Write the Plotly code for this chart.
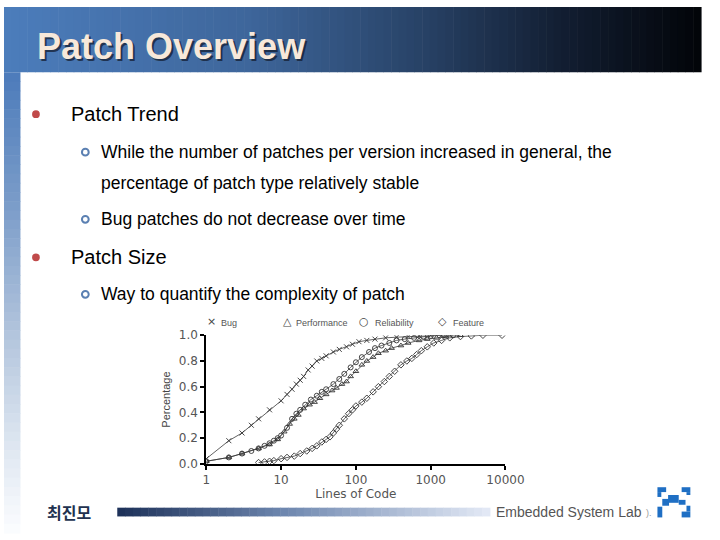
import plotly.graph_objects as go

W, H = 720, 540

# ---------------- data ----------------
bug_loc = [1, 2, 3, 4, 5, 7, 10, 12, 14, 16, 18, 20, 23, 26, 30, 35, 40, 50, 60, 75, 90,
           110, 140, 180, 250, 350, 500, 700, 1000, 1400]
bug_cdf = [0.04, 0.18, 0.24, 0.30, 0.35, 0.42, 0.49, 0.54, 0.58, 0.62, 0.65, 0.68, 0.73, 0.76,
           0.80, 0.82, 0.84, 0.87, 0.89, 0.91, 0.93, 0.95, 0.96, 0.97, 0.98, 0.985, 0.99, 0.995,
           1.0, 1.0]

perf_loc = [1, 2, 3, 5, 7, 9, 11, 13, 15, 17, 20, 24, 28, 33, 40, 48, 55, 65, 75, 85, 100, 120,
            140, 170, 200, 250, 300, 400, 500, 700, 900, 1200, 1600, 2500]
perf_cdf = [0.02, 0.05, 0.08, 0.12, 0.15, 0.19, 0.25, 0.31, 0.35, 0.38, 0.43, 0.46, 0.48, 0.51,
            0.54, 0.57, 0.59, 0.62, 0.64, 0.68, 0.72, 0.77, 0.80, 0.83, 0.86, 0.88, 0.90, 0.92,
            0.94, 0.96, 0.97, 0.98, 0.99, 1.0]

rel_loc = [1, 2, 3, 4, 5, 6, 7, 8, 9, 10, 12, 14, 16, 18, 21, 25, 30, 35, 40, 50, 60, 70, 85,
           100, 120, 150, 180, 220, 280, 350, 450, 600, 800, 1000, 1500, 2000]
rel_cdf = [0.02, 0.05, 0.08, 0.10, 0.12, 0.14, 0.16, 0.18, 0.20, 0.22, 0.28, 0.35, 0.39, 0.42,
           0.46, 0.50, 0.53, 0.56, 0.58, 0.62, 0.66, 0.70, 0.75, 0.79, 0.83, 0.87, 0.90, 0.92,
           0.94, 0.96, 0.97, 0.98, 0.99, 0.995, 1.0, 1.0]

feat_loc = [5, 6, 7, 8, 10, 12, 15, 18, 22, 26, 30, 35, 40, 45, 50, 55, 60, 70, 80, 90, 100,
            120, 140, 170, 200, 240, 280, 330, 400, 480, 560, 650, 750, 900, 1100, 1400, 1800,
            2500, 3500, 5000, 9000]
feat_cdf = [0.01, 0.015, 0.02, 0.025, 0.04, 0.05, 0.06, 0.08, 0.10, 0.12, 0.14, 0.17, 0.19,
            0.21, 0.24, 0.27, 0.30, 0.35, 0.39, 0.42, 0.45, 0.48, 0.51, 0.56, 0.60, 0.64, 0.68,
            0.72, 0.77, 0.80, 0.82, 0.85, 0.88, 0.91, 0.94, 0.96, 0.98, 0.99, 0.995, 1.0, 1.0]

series_names = ["Bug", "Performance", "Reliability", "Feature"]
x_tick_vals = [1, 10, 100, 1000, 10000]
x_tick_text = ["1", "10", "100", "1000", "10000"]
y_tick_vals = [0.0, 0.2, 0.4, 0.6, 0.8, 1.0]
y_tick_text = ["0.0", "0.2", "0.4", "0.6", "0.8", "1.0"]

slide_title = "Patch Overview"
bullets_l1 = ["Patch Trend", "Patch Size"]
bullets_l2 = ["While the number of patches per version increased in general, the",
              "percentage of patch type relatively stable",
              "Bug patches do not decrease over time",
              "Way to quantify the complexity of patch"]
footer_name = "최진모"
footer_lab = "Embedded System Lab"


def px(x):
    return x / W


def py(y):
    return 1 - y / H


def lerp(stops, t):
    for (t0, c0), (t1, c1) in zip(stops[:-1], stops[1:]):
        if t0 <= t <= t1:
            f = (t - t0) / (t1 - t0) if t1 > t0 else 0
            return "rgb(%d,%d,%d)" % tuple(round(a + (b - a) * f) for a, b in zip(c0, c1))
    return "rgb(%d,%d,%d)" % stops[-1][1]


fig = go.Figure()

symbols = ["x-thin", "triangle-up-open", "circle-open", "diamond-open"]
data = [(bug_loc, bug_cdf), (perf_loc, perf_cdf), (rel_loc, rel_cdf), (feat_loc, feat_cdf)]
for name, (xs, ys), sym in zip(series_names, data, symbols):
    fig.add_trace(go.Scatter(
        x=xs, y=ys, name=name, mode="lines+markers", showlegend=False,
        line=dict(color="#3a3a3a", width=0.8),
        marker=dict(symbol=sym, size=5, color="#333333",
                    line=dict(color="#333333", width=0.9)),
        hoverinfo="skip"))

shapes = []
# title bar gradient
title_stops = [(0.0, (76, 125, 188)), (0.35, (62, 102, 155)), (0.6, (40, 66, 102)),
               (0.8, (18, 30, 50)), (1.0, (2, 4, 8))]
n = 90
for i in range(n):
    x0 = i * W / n
    shapes.append(dict(type="rect", xref="paper", yref="paper", x0=px(x0), x1=px(x0 + W / n + 0.6),
                       y0=py(67), y1=py(0), fillcolor=lerp(title_stops, (i + 0.5) / n),
                       line=dict(width=0), layer="below"))
# left vertical strip gradient
left_stops = [(0.0, (76, 123, 186)), (0.3, (125, 158, 202)), (0.55, (175, 194, 219)),
              (0.8, (220, 229, 240)), (1.0, (252, 253, 255))]
n = 50
y_top, y_bot = 67, 540
for i in range(n):
    y0 = y_top + i * (y_bot - y_top) / n
    y1 = y0 + (y_bot - y_top) / n + 0.6
    shapes.append(dict(type="rect", xref="paper", yref="paper", x0=px(0), x1=px(17),
                       y0=py(y1), y1=py(y0), fillcolor=lerp(left_stops, (i + 0.5) / n),
                       line=dict(width=0), layer="below"))
# footer bar gradient
foot_stops = [(0.0, (28, 48, 88)), (0.45, (110, 135, 175)), (1.0, (228, 234, 246))]
n = 48
fx0, fx1 = 117, 502
for i in range(n):
    x0 = fx0 + i * (fx1 - fx0) / n
    x1 = x0 + (fx1 - fx0) / n + 0.5
    shapes.append(dict(type="rect", xref="paper", yref="paper", x0=px(x0), x1=px(x1),
                       y0=py(523), y1=py(514), fillcolor=lerp(foot_stops, (i + 0.5) / n),
                       line=dict(width=0), layer="below"))
# bullets
for yb in [110, 257]:
    shapes.append(dict(type="circle", xref="paper", yref="paper", x0=px(29), x1=px(37),
                       y0=py(yb + 4), y1=py(yb - 4), fillcolor="#c04a4a",
                       line=dict(width=0)))
for yb in [149, 218, 295]:
    shapes.append(dict(type="circle", xref="paper", yref="paper", x0=px(80.5), x1=px(87.5),
                       y0=py(yb + 3.5), y1=py(yb - 3.5), fillcolor="white",
                       line=dict(width=2, color="#5b80b2")))
# logo
logo_blocks = [(675, 493, 684, 498), (675, 498, 679, 503), (700, 493, 709, 498),
               (705, 498, 709, 501), (686, 501, 697, 509), (680, 505, 687, 512),
               (697, 506, 704, 511), (675, 513, 680, 524), (700, 518, 709, 524),
               (705, 512, 709, 518)]
for (a, b, c, d) in logo_blocks:
    shapes.append(dict(type="rect", xref="paper", yref="paper", x0=px(a), x1=px(c),
                       y0=py(d), y1=py(b), fillcolor="#1f6fc4", line=dict(width=0)))

ann = []
# title with shadow
ann.append(dict(text=slide_title, x=px(34), y=py(43), xref="paper", yref="paper",
                xanchor="left", yanchor="middle", showarrow=False,
                font=dict(family="Liberation Sans", size=36, color="rgba(20,30,50,0.75)",
                          weight="bold")))
ann.append(dict(text=slide_title, x=px(32), y=py(41), xref="paper", yref="paper",
                xanchor="left", yanchor="middle", showarrow=False,
                font=dict(family="Liberation Sans", size=36, color="#f7e8da", weight="bold")))
for t, yy in zip(bullets_l1, [110, 257]):
    ann.append(dict(text=t, x=px(67), y=py(yy), xref="paper", yref="paper", xanchor="left",
                    yanchor="middle", showarrow=False,
                    font=dict(family="Liberation Sans", size=20, color="black")))
for t, yy in zip(bullets_l2, [149, 181, 218, 295]):
    ann.append(dict(text=t, x=px(98), y=py(yy), xref="paper", yref="paper", xanchor="left",
                    yanchor="middle", showarrow=False,
                    font=dict(family="Liberation Sans", size=17.5, color="black")))
# footer texts
ann.append(dict(text=footer_name, x=px(67), y=py(518), xref="paper", yref="paper",
                xanchor="center", yanchor="middle", showarrow=False,
                font=dict(family="Noto Sans CJK KR", size=16, color="#22324f", weight="bold")))
ann.append(dict(text=footer_lab, x=px(506), y=py(518), xref="paper", yref="paper",
                xanchor="left", yanchor="middle", showarrow=False,
                font=dict(family="Liberation Sans", size=14, color="#555555")))
ann.append(dict(text=").", x=px(661), y=py(519), xref="paper", yref="paper",
                xanchor="left", yanchor="middle", showarrow=False,
                font=dict(family="Liberation Sans", size=9, color="#9a9a9a")))
# chart legend (symbol + label)
leg_sym = ["×", "△", "○", "◇"]
leg_sym_x = [214, 293, 372, 453]
leg_txt_x = [222, 300, 381, 462]
for s, sx, name, tx in zip(leg_sym, leg_sym_x, series_names, leg_txt_x):
    ann.append(dict(text=s, x=px(sx), y=py(323), xref="paper", yref="paper", xanchor="center",
                    yanchor="middle", showarrow=False,
                    font=dict(family="DejaVu Sans", size=11, color="#444444")))
    ann.append(dict(text=name, x=px(tx), y=py(324), xref="paper", yref="paper", xanchor="left",
                    yanchor="middle", showarrow=False,
                    font=dict(family="Liberation Sans", size=9, color="#555555")))

fig.update_layout(
    width=W, height=H, margin=dict(l=0, r=0, t=0, b=0),
    paper_bgcolor="white", plot_bgcolor="white",
    shapes=shapes, annotations=ann, showlegend=False,
    xaxis=dict(type="log", range=[0, 4], domain=[px(209), px(518)],
               showline=True, linecolor="black", linewidth=2, showgrid=False, zeroline=False,
               ticks="outside", ticklen=4, tickwidth=1.5, tickcolor="black",
               tickvals=x_tick_vals, ticktext=x_tick_text,
               tickfont=dict(family="DejaVu Sans", size=12, color="#555555"),
               title=dict(text="Lines of Code", standoff=2,
                          font=dict(family="DejaVu Sans", size=12, color="#555555"))),
    yaxis=dict(range=[0, 1], domain=[py(469), py(337)],
               showline=True, linecolor="black", linewidth=2, showgrid=False, zeroline=False,
               ticks="outside", ticklen=4, tickwidth=1.5, tickcolor="black",
               tickvals=y_tick_vals, ticktext=y_tick_text,
               tickfont=dict(family="DejaVu Sans", size=12, color="#555555"),
               title=dict(text="Percentage", standoff=6,
                          font=dict(family="Liberation Sans", size=11, color="#444444"))),
)

fig.write_html(
    "out.html",
    config={"displayModeBar": False},
    post_script=(
        "var de=document.documentElement;de.style.margin='0';de.style.padding='0';"
        "de.style.overflow='hidden';"
        "document.body.style.margin='0';document.body.style.padding='0';"
        "document.body.style.overflow='hidden';"
        "var g=document.getElementById('{plot_id}');"
        "g.style.position='fixed';g.style.left='0px';g.style.top='0px';"
    ),
)
